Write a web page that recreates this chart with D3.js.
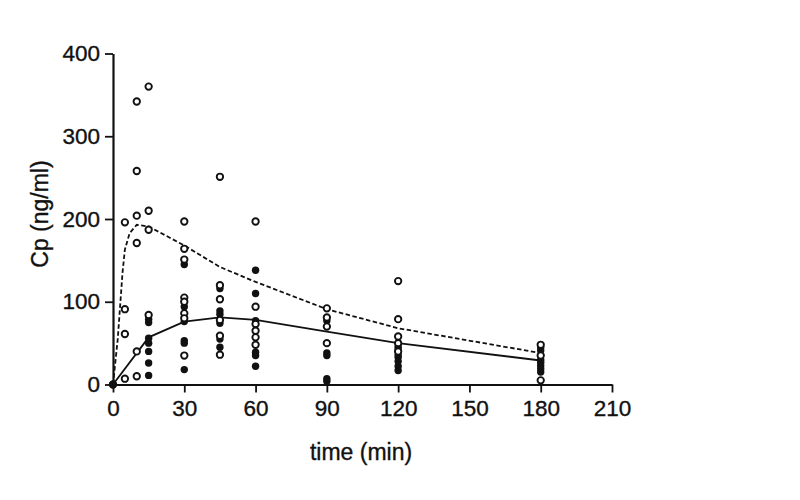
<!DOCTYPE html>
<html>
<head>
<meta charset="utf-8">
<script src="https://cdn.jsdelivr.net/npm/d3@7"></script>
<style>
  html, body { margin: 0; padding: 0; background: #fff; }
  svg { display: block; }
  text { font-family: "Liberation Sans", Arial, sans-serif; fill: #111; }
</style>
</head>
<body>
<svg id="chart" width="800" height="500"></svg>
<script>
// ---- data ----
const xTicks = [0, 30, 60, 90, 120, 150, 180, 210];
const yTicks = [0, 100, 200, 300, 400];
const xTitle = "time (min)";
const yTitle = "Cp (ng/ml)";

// open circles (group with dashed fit): [time, Cp]
const openPoints = [
  [0, 0],
  [5, 196], [5, 91], [5, 61], [5, 7],
  [10, 342], [10, 258], [10, 204], [10, 171], [10, 40], [10, 10],
  [15, 360], [15, 210], [15, 187], [15, 84],
  [30, 197], [30, 164], [30, 151], [30, 105], [30, 100], [30, 86], [30, 80], [30, 35],
  [45, 251], [45, 120], [45, 103], [45, 78], [45, 59], [45, 36],
  [60, 197], [60, 94], [60, 73], [60, 65], [60, 57], [60, 48],
  [90, 92], [90, 81], [90, 70], [90, 50],
  [120, 125], [120, 79], [120, 58], [120, 50], [120, 40],
  [180, 48], [180, 35], [180, 5]
];
// filled circles (group with solid fit): [time, Cp]
const filledPoints = [
  [0, 0],
  [15, 79], [15, 75], [15, 56], [15, 50], [15, 40], [15, 26], [15, 11],
  [30, 145], [30, 94], [30, 76], [30, 53], [30, 50], [30, 18],
  [45, 116], [45, 89], [45, 85], [45, 74], [45, 55], [45, 45],
  [60, 138], [60, 110], [60, 77], [60, 39], [60, 35], [60, 22],
  [90, 77], [90, 38], [90, 35], [90, 7], [90, 4],
  [120, 46], [120, 43], [120, 36], [120, 33], [120, 28], [120, 22], [120, 17],
  [180, 45], [180, 41], [180, 30], [180, 27], [180, 23], [180, 19], [180, 15]
];
// fitted curves
const dashedFit = [
  [0, 0], [2, 55], [4, 135], [5, 163], [7, 183], [10, 193], [15, 191],
  [30, 168], [45, 142], [60, 124], [90, 91], [120, 68], [180, 38]
];
const solidFit = [
  [0, 0], [15, 57], [30, 76], [45, 81], [60, 78], [90, 64], [120, 50], [180, 29]
];

// ---- drawing ----
const svg = d3.select("#chart");
svg.append("rect").attr("width", 800).attr("height", 500).attr("fill", "#fff");

const x = d3.scaleLinear().domain([0, 210]).range([113, 612]);
const y = d3.scaleLinear().domain([0, 400]).range([384.5, 53.5]);

const line = d3.line().x(d => x(d[0])).y(d => y(d[1]));

// x axis
const gx = svg.append("g").attr("transform", `translate(0,${y(0)})`)
  .call(d3.axisBottom(x).tickValues(xTicks).tickSize(8).tickSizeOuter(0).tickPadding(8));
// y axis
const gy = svg.append("g").attr("transform", `translate(${x(0)},0)`)
  .call(d3.axisLeft(y).tickValues(yTicks).tickSize(8).tickSizeOuter(0).tickPadding(5));

[gx, gy].forEach(g => {
  g.select(".domain").attr("stroke", "#111").attr("stroke-width", 2.2);
  g.selectAll(".tick line").attr("stroke", "#111").attr("stroke-width", 1.8);
  g.selectAll(".tick text").attr("font-size", 22.5).attr("fill", "#111")
    .attr("stroke", "#111").attr("stroke-width", 0.35)
    .attr("font-family", '"Liberation Sans", Arial, sans-serif');
});

// fitted lines
svg.append("path").datum(dashedFit).attr("d", line)
  .attr("fill", "none").attr("stroke", "#111").attr("stroke-width", 1.8)
  .attr("stroke-dasharray", "4.5,2.5");
svg.append("path").datum(solidFit).attr("d", line)
  .attr("fill", "none").attr("stroke", "#111").attr("stroke-width", 1.8);

// points
svg.append("g").selectAll("circle").data(filledPoints).join("circle")
  .attr("cx", d => x(d[0])).attr("cy", d => y(d[1])).attr("r", 3.7)
  .attr("fill", "#111");
svg.append("g").selectAll("circle").data(openPoints).join("circle")
  .attr("cx", d => x(d[0])).attr("cy", d => y(d[1])).attr("r", 3.2)
  .attr("fill", "#fff").attr("stroke", "#111").attr("stroke-width", 1.9);
// origin filled on top
svg.append("circle").attr("cx", x(0)).attr("cy", y(0)).attr("r", 3.7).attr("fill", "#111");

// titles
svg.append("text").attr("x", 361).attr("y", 460).attr("text-anchor", "middle")
  .attr("font-size", 23).attr("stroke", "#111").attr("stroke-width", 0.35).text(xTitle);
svg.append("text").attr("transform", "translate(48,214) rotate(-90)")
  .attr("text-anchor", "middle").attr("font-size", 23)
  .attr("stroke", "#111").attr("stroke-width", 0.35).text(yTitle);
</script>
</body>
</html>
